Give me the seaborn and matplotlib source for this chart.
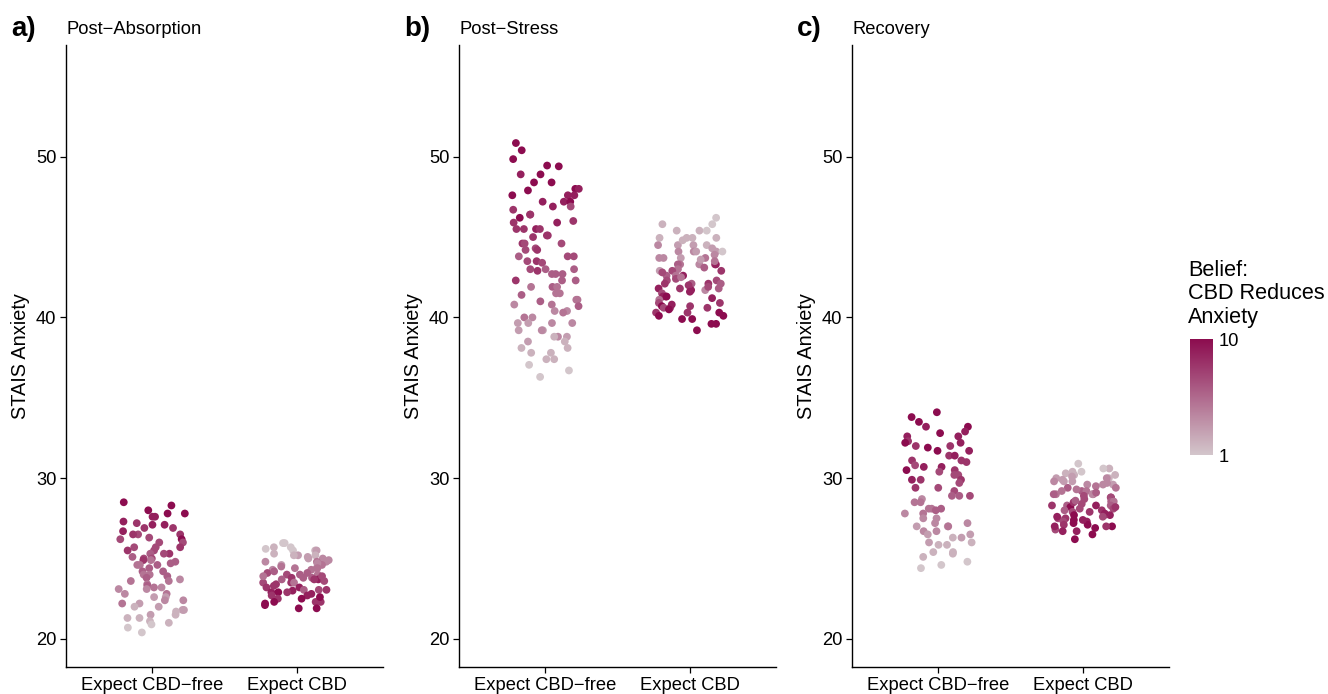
import numpy as np
import pandas as pd
import matplotlib
matplotlib.use("Agg")
import matplotlib.pyplot as plt
from matplotlib.colors import LinearSegmentedColormap, Normalize
from matplotlib.cm import ScalarMappable
import seaborn as sns

# ---------------- data ----------------
groups = ["Expect CBD\u2212free", "Expect CBD"]
panel_titles = ["Post\u2212Absorption", "Post\u2212Stress", "Recovery"]
panel_tags = ["a)", "b)", "c)"]
y_ticks = [20, 30, 40, 50]
belief_ticks = [1, 10]

# Panel a - Post-Absorption
pa_free_anx = [28.5, 28.3, 28.0, 27.8, 27.8, 27.6, 27.6, 27.3, 27.2, 27.1, 27.1, 26.9, 26.9, 26.7,
               26.5, 26.5, 26.5, 26.3, 26.2, 26.2, 26.0, 26.0, 25.7, 25.7, 25.7, 25.5, 25.5, 25.3,
               25.3, 25.3, 25.1, 25.0, 25.0, 24.9, 24.9, 24.8, 24.7, 24.6, 24.6, 24.6, 24.4, 24.2,
               24.2, 24.0, 24.0, 23.9, 23.8, 23.7, 23.6, 23.6, 23.4, 23.3, 23.2, 23.2, 23.1, 23.1,
               22.8, 22.8, 22.6, 22.6, 22.4, 22.4, 22.2, 22.2, 22.0, 22.0, 21.8, 21.8, 21.7, 21.5,
               21.5, 21.3, 21.3, 21.1, 21.0, 20.9, 20.7, 20.4]
pa_free_belief = [10, 10, 10, 10, 10, 9, 9, 9, 8, 9, 9, 8, 8, 9,
                  7, 8, 8, 7, 10, 7, 7, 7, 7, 7, 8, 8, 7, 8,
                  7, 6, 6, 7, 7, 5, 8, 6, 6, 5, 6, 5, 6, 6,
                  6, 5, 5, 6, 6, 4, 5, 5, 5, 6, 4, 5, 4, 4,
                  4, 5, 3, 3, 4, 4, 5, 3, 3, 2, 3, 3, 2, 3,
                  2, 2, 2, 2, 2, 1, 1, 1]
pa_cbd_anx = [25.96, 25.96, 25.7, 25.7, 25.5, 25.5, 25.5, 25.2, 25.2, 25.2, 25.0, 25.0, 24.8, 24.8,
              24.8, 24.6, 24.6, 24.4, 24.4, 24.3, 24.3, 24.1, 24.1, 24.0, 24.0, 23.8, 23.8, 23.8,
              23.7, 23.7, 23.5, 23.5, 23.5, 23.2, 23.2, 23.05, 23.05, 23.05, 22.9, 22.9, 22.7, 22.7,
              22.5, 22.5, 22.3, 22.3, 22.3, 22.1, 21.9, 21.9,
              24.9, 24.5, 24.2, 23.9, 23.6, 23.4, 23.0, 22.8, 22.6, 25.3, 25.1, 24.7, 24.0, 23.3,
              22.2, 23.7, 24.4, 25.6, 23.9, 22.9]
pa_cbd_belief = [1, 1, 2, 1, 1, 2, 3, 3, 2, 2, 4, 3, 5, 4,
                 4, 5, 3, 5, 4, 5, 4, 6, 7, 7, 5, 8, 6, 6,
                 9, 8, 7, 8, 5, 8, 9, 6, 7, 8, 9, 10, 9, 8,
                 8, 10, 10, 8, 8, 10, 10, 10,
                 4, 5, 6, 7, 7, 8, 9, 9, 10, 2, 3, 4, 6, 8,
                 10, 6, 5, 1, 5, 8]

# Panel b - Post-Stress
pb_free_anx = [50.85, 50.4, 49.85, 49.45, 49.4, 48.9, 48.9, 48.4, 48.4, 48.0, 48.0, 47.9, 47.6, 47.6,
               47.6, 47.2, 47.2, 47.2, 46.9, 46.9, 46.7, 46.4, 46.4, 46.2, 46.0, 45.9, 45.9, 45.5,
               45.5, 45.5, 45.5, 45.1, 45.1, 45.0, 44.6, 44.6, 44.6, 44.3, 44.2, 44.2, 43.8, 43.8,
               43.8, 43.5, 43.5, 43.4, 43.0, 43.0, 43.0, 42.9, 42.7, 42.7, 42.7, 42.3, 42.3, 42.3,
               41.9, 41.9, 41.9, 41.5, 41.5, 41.4, 41.1, 41.1, 41.0, 40.8, 40.8, 40.7, 40.4, 40.4,
               40.3, 40.0, 40.0, 39.65, 39.65, 39.65, 39.65, 39.2, 39.2, 39.2, 38.8, 38.8, 38.8,
               38.5, 38.5, 38.1, 38.1, 37.8, 37.8, 37.4, 37.4, 37.05, 36.7, 36.3]
pb_free_belief = [10, 10, 10, 10, 10, 10, 9, 10, 10, 10, 9, 10, 10, 9,
                  9, 9, 9, 10, 9, 7, 8, 8, 8, 10, 8, 8, 9, 8,
                  9, 8, 8, 8, 8, 8, 7, 8, 7, 7, 8, 7, 7, 7,
                  6, 8, 7, 7, 7, 6, 6, 8, 6, 6, 6, 8, 6, 6,
                  6, 5, 5, 5, 5, 6, 5, 5, 6, 5, 4, 6, 4, 4,
                  5, 5, 4, 3, 4, 3, 4, 3, 4, 3, 4, 3, 2,
                  3, 2, 2, 2, 2, 2, 2, 2, 1, 1, 1]
pb_cbd_anx = [46.2, 45.8, 45.8, 45.4, 45.4, 45.4, 44.95, 44.95, 44.95, 44.95, 44.5, 44.5, 44.5, 44.5,
              44.1, 44.1, 44.1, 44.1, 44.1, 43.7, 43.7, 43.7, 43.7, 43.3, 43.3, 43.3, 43.3, 43.3,
              43.0, 42.9, 42.9, 42.9, 42.6, 42.6, 42.6, 42.3, 42.3, 42.1, 42.1, 42.1, 42.1, 41.8,
              41.8, 41.8, 41.7, 41.7, 41.5, 41.3, 41.3, 41.3, 41.1, 40.9, 40.9, 40.7, 40.7, 40.6,
              40.6, 40.6, 40.3, 40.3, 40.3, 40.1, 40.1, 39.9, 39.9, 39.6, 39.6, 39.2,
              44.8, 44.3, 43.9, 43.5, 43.1, 42.8, 42.4, 42.0, 41.6, 41.2, 40.8, 43.6, 42.5, 41.9, 40.5]
pb_cbd_belief = [1, 1, 2, 2, 2, 1, 2, 2, 2, 2, 3, 3, 4, 2,
                 4, 3, 3, 4, 1, 4, 4, 5, 3, 5, 8, 6, 9, 4,
                 5, 3, 7, 8, 9, 6, 5, 7, 7, 8, 8, 6, 6, 9,
                 6, 8, 4, 9, 7, 9, 9, 10, 5, 7, 8, 10, 8, 7,
                 7, 8, 10, 8, 8, 10, 10, 10, 10, 10, 10, 10,
                 2, 3, 4, 5, 6, 7, 7, 8, 9, 9, 9, 3, 5, 7, 10]

# Panel c - Recovery
pc_free_anx = [34.1, 33.8, 33.5, 33.2, 33.2, 32.9, 32.8, 32.6, 32.6, 32.3, 32.2, 32.2, 32.0, 32.0,
               31.9, 31.7, 31.7, 31.4, 31.4, 31.1, 31.1, 31.0, 30.8, 30.7, 30.7, 30.5, 30.5, 30.4,
               30.2, 30.2, 29.9, 29.9, 29.9, 29.7, 29.4, 29.4, 29.2, 28.9, 28.9, 28.9, 28.7, 28.5,
               28.5, 28.1, 28.1, 28.1, 28.0, 27.8, 27.8, 27.5, 27.5, 27.2, 27.2, 27.0, 27.0, 27.0,
               26.7, 26.7, 26.5, 26.5, 26.3, 26.3, 26.0, 26.0, 25.85, 25.85, 25.4, 25.4, 25.3, 25.1,
               24.8, 24.6, 24.4]
pc_free_belief = [10, 10, 10, 10, 9, 9, 10, 9, 9, 8, 9, 10, 8, 8,
                  10, 9, 10, 8, 9, 8, 8, 8, 7, 9, 9, 8, 10, 7,
                  7, 7, 9, 8, 8, 7, 7, 8, 7, 6, 6, 7, 4, 5,
                  5, 6, 5, 5, 6, 5, 4, 4, 4, 4, 4, 3, 3, 5,
                  4, 4, 3, 3, 2, 3, 3, 2, 2, 2, 2, 2, 2, 2,
                  1, 1, 1]
pc_cbd_anx = [30.9, 30.6, 30.6, 30.4, 30.4, 30.2, 30.2, 30.0, 30.0, 30.0, 29.8, 29.8, 29.6, 29.6,
              29.6, 29.4, 29.4, 29.2, 29.2, 29.2, 29.0, 29.0, 29.0, 28.8, 28.8, 28.55, 28.55, 28.55,
              28.3, 28.3, 28.3, 28.2, 28.1, 28.1, 27.9, 27.9, 27.7, 27.7, 27.7, 27.5, 27.5, 27.4,
              27.3, 27.3, 27.1, 27.1, 27.0, 27.0, 26.8, 26.7, 26.7, 26.5, 26.2,
              30.3, 30.1, 29.9, 29.7, 29.5, 29.3, 29.1, 28.9, 28.7, 28.5, 28.4, 28.2, 28.0, 27.8,
              27.6, 27.4, 27.2, 27.0, 28.6, 29.0, 28.0, 27.6, 26.9, 28.3, 29.8]
pc_cbd_belief = [1, 2, 1, 1, 2, 2, 2, 3, 2, 4, 3, 3, 4, 4,
                 3, 5, 6, 5, 6, 5, 6, 5, 4, 8, 7, 9, 6, 5,
                 8, 6, 6, 10, 7, 7, 8, 7, 10, 9, 8, 7, 8, 10,
                 7, 9, 8, 10, 10, 8, 7, 9, 9, 10, 10,
                 2, 3, 3, 4, 5, 5, 6, 7, 7, 8, 7, 8, 8, 9,
                 9, 9, 10, 9, 6, 6, 6, 7, 10, 9, 4]

panels = [
    (pa_free_anx, pa_free_belief, pa_cbd_anx, pa_cbd_belief),
    (pb_free_anx, pb_free_belief, pb_cbd_anx, pb_cbd_belief),
    (pc_free_anx, pc_free_belief, pc_cbd_anx, pc_cbd_belief),
]

# ---------------- styling ----------------
sns.set_theme(style="ticks")
plt.rcParams["font.family"] = ["Liberation Sans", "DejaVu Sans"]

low_col = "#D3C6CB"
high_col = "#8C0C4F"
cmap = LinearSegmentedColormap.from_list("belief", [low_col, high_col])
norm = Normalize(vmin=1, vmax=10)
palette = {b: cmap(norm(b)) for b in range(1, 11)}

W, H = 1328, 694
fig = plt.figure(figsize=(W / 100, H / 100), dpi=100)

lefts = [66, 459, 852]
ax_w = 317
ax_top, ax_bot = 45, 667

np.random.seed(7)
for i, (fa, fb, ca, cb) in enumerate(panels):
    ax = fig.add_axes([lefts[i] / W, 1 - ax_bot / H, ax_w / W, (ax_bot - ax_top) / H])
    df = pd.DataFrame({
        "group": [groups[0]] * len(fa) + [groups[1]] * len(ca),
        "anx": list(fa) + list(ca),
        "belief": list(fb) + list(cb),
    })
    sns.stripplot(data=df, x="group", y="anx", hue="belief", palette=palette,
                  order=groups, jitter=0.235, size=5.6, linewidth=0, alpha=1,
                  legend=False, ax=ax, zorder=3)
    ax.set_xlim(-0.6, 1.6)
    ax.set_ylim(18.25, 56.95)
    ax.set_yticks(y_ticks)
    ax.set_yticklabels([str(t) for t in y_ticks])
    ax.set_xlabel("")
    ax.set_ylabel("STAIS Anxiety", fontsize=14.3, color="black", labelpad=4)
    for s in ["top", "right"]:
        ax.spines[s].set_visible(False)
    for s in ["left", "bottom"]:
        ax.spines[s].set_color("black")
        ax.spines[s].set_linewidth(1.0)
    ax.tick_params(axis="both", colors="black", labelcolor="black", labelsize=13.2,
                   length=4, width=0.9, pad=3)
    ax.grid(False)
    fig.text((lefts[i] + 0) / W, 1 - 29 / H, panel_titles[i], fontsize=13.2,
             ha="left", va="center", color="black")
    fig.text((lefts[i] - 55) / W, 1 - 29 / H, panel_tags[i], fontsize=20,
             fontweight="bold", ha="left", va="center", color="black")

# colour bar legend
cax = fig.add_axes([1190 / W, 1 - 455 / H, 23 / W, (455 - 339) / H])
sm = ScalarMappable(norm=norm, cmap=cmap)
cbar = fig.colorbar(sm, cax=cax)
cbar.set_ticks(belief_ticks)
cbar.set_ticklabels([str(t) for t in belief_ticks])
cbar.outline.set_visible(False)
cax.tick_params(length=0, labelsize=13.2, colors="black", pad=4)
fig.text(1188 / W, 1 - 260 / H, "Belief:\nCBD Reduces\nAnxiety", fontsize=15.6,
         ha="left", va="top", linespacing=1.15, color="black")

fig.savefig("out.png", dpi=100, facecolor="white")
